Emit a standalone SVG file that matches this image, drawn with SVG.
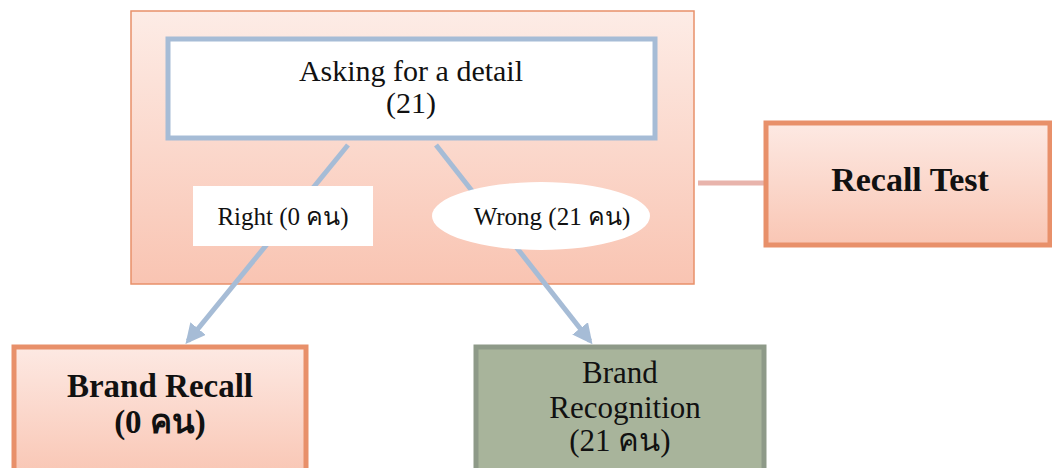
<svg xmlns="http://www.w3.org/2000/svg" width="1052" height="468" viewBox="0 0 1052 468">
<defs>
<linearGradient id="gOuter" x1="0" y1="0" x2="0" y2="1">
<stop offset="0" stop-color="#fdece6"/>
<stop offset="1" stop-color="#f9c4b2"/>
</linearGradient>
<linearGradient id="gBox" x1="0" y1="0" x2="0" y2="1">
<stop offset="0" stop-color="#fde9e3"/>
<stop offset="1" stop-color="#f9c6b4"/>
</linearGradient>
<marker id="arr" viewBox="0 0 10 10" refX="8" refY="5" markerWidth="4" markerHeight="4" orient="auto" markerUnits="strokeWidth">
<path d="M0,0 L10,5 L0,10 Z" fill="#a6bcd6"/>
</marker>
<style>
.t{font-family:"Liberation Serif","Times New Roman",serif;fill:#111;text-anchor:middle}
.b{font-weight:bold}
.conn{stroke:#a6bcd6;stroke-width:5;fill:none}
</style>
</defs>
<rect width="1052" height="468" fill="#ffffff"/>
<g id="outer">
<rect x="131" y="11" width="563" height="273" fill="url(#gOuter)" stroke="#e8906a" stroke-width="1.5"/>
</g>
<g id="connectors">
<line x1="698" y1="183" x2="765" y2="183" stroke="#e8b4ac" stroke-width="5"/>
<line class="conn" x1="348" y1="145" x2="188" y2="341" marker-end="url(#arr)"/>
<line class="conn" x1="436" y1="145" x2="590" y2="341" marker-end="url(#arr)"/>
</g>
<g id="asking">
<rect x="168" y="39" width="487" height="99" fill="#ffffff" stroke="#a6bcd6" stroke-width="5"/>
<text class="t" x="411" y="81" font-size="30">Asking for a detail</text>
<text class="t" x="411" y="113" font-size="30">(21)</text>
</g>
<g id="right-label">
<rect x="193" y="186" width="180" height="60" fill="#ffffff"/>
<text class="t" x="283" y="225" font-size="25">Right (0 คน)</text>
</g>
<g id="wrong-label">
<ellipse cx="541" cy="216" rx="109" ry="34" fill="#ffffff"/>
<text class="t" x="552" y="225" font-size="25">Wrong (21 คน)</text>
</g>
<g id="recall-test">
<rect x="766" y="123" width="284" height="122" fill="url(#gBox)" stroke="#e8906a" stroke-width="5"/>
<text class="t b" x="910" y="191" font-size="34">Recall Test</text>
</g>
<g id="brand-recall">
<rect x="14" y="347" width="292" height="130" fill="url(#gBox)" stroke="#e8906a" stroke-width="5"/>
<text class="t b" x="160" y="397" font-size="33">Brand Recall</text>
<text class="t b" x="160" y="433" font-size="33" fill="#333">(0 คน)</text>
</g>
<g id="brand-recognition">
<rect x="476" y="347" width="288" height="130" fill="#a8b49b" stroke="#8e9a88" stroke-width="5"/>
<text class="t" x="620" y="383" font-size="31" fill="#444">Brand</text>
<text class="t" x="625" y="418" font-size="31" fill="#444">Recognition</text>
<text class="t" x="620" y="451" font-size="31" fill="#444">(21 คน)</text>
</g>
</svg>
